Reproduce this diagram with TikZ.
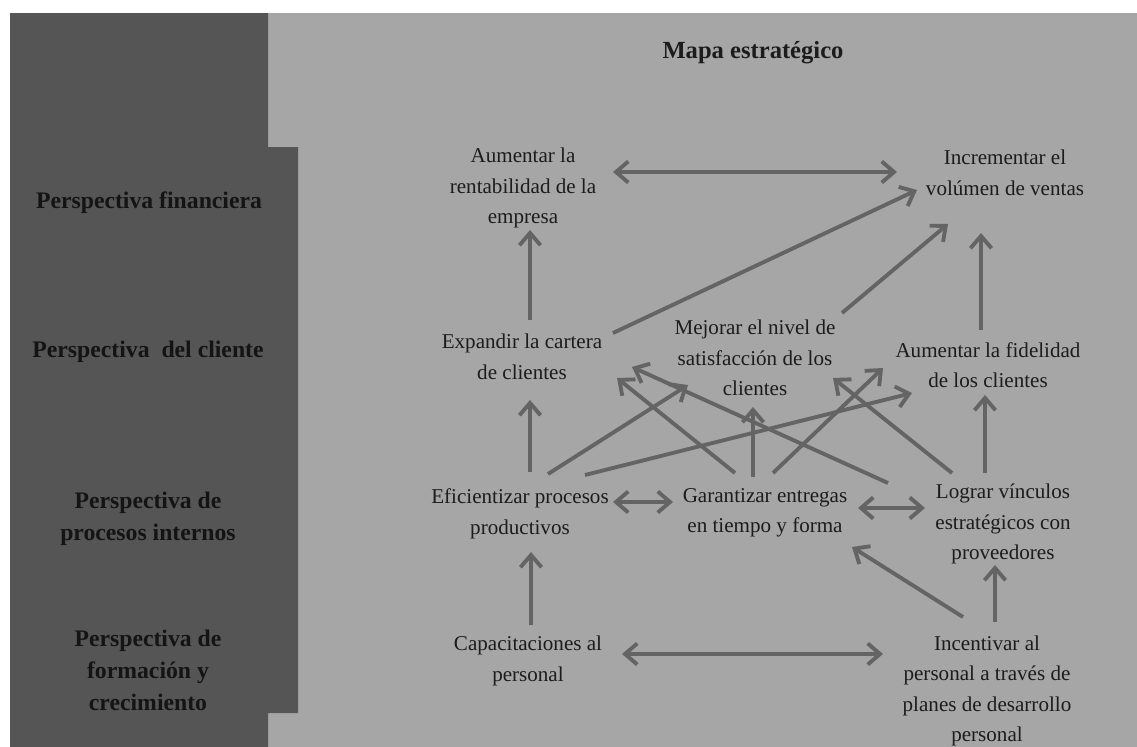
\documentclass[tikz,border=0pt]{standalone}
\usepackage{fontspec}
\setmainfont{Liberation Serif}
\usetikzlibrary{arrows.meta}

\definecolor{panel}{HTML}{555555}
\definecolor{fondo}{HTML}{A6A6A6}
\definecolor{flecha}{HTML}{646464}
\definecolor{texto}{HTML}{1C1C1C}

\begin{document}
\begin{tikzpicture}[x=0.02cm, y=-0.02cm,
    obj/.style={align=center, text=texto, inner sep=0pt, font=\fontsize{12}{17.4}\selectfont},
    persp/.style={align=center, text=black!92, inner sep=0pt, font=\bfseries\fontsize{13.5}{18.2}\selectfont},
    arr/.style={draw=flecha, line width=2.2pt, -{Straight Barb[length=7pt,width=12pt]}},
    arr2/.style={draw=flecha, line width=2.2pt, {Straight Barb[length=7pt,width=12pt]}-{Straight Barb[length=7pt,width=12pt]}}]

    \useasboundingbox (0,0) rectangle (1137,747);
    \fill[white] (0,0) rectangle (1137,747);
    \fill[fondo] (268,13) rectangle (1137,747);
    \fill[panel] (10,13) -- (268,13) -- (268,147) -- (298,147) -- (298,713) -- (268,713) -- (268,747) -- (10,747) -- cycle;

    \node[font=\bfseries\fontsize{14}{17}\selectfont, text=texto] (titulo) at (753,53) {Mapa estratégico};

    \node[persp] (pfin) at (149,203) {Perspectiva financiera};
    \node[persp] (pcli) at (148,352) {Perspectiva~ del cliente};
    \node[persp] (ppro) at (148,519) {Perspectiva de\\procesos internos};
    \node[persp] (pfor) at (148,670) {Perspectiva de\\formación y\\crecimiento};

    \node[obj] (rent) at (523,188) {Aumentar la\\rentabilidad de la\\empresa};
    \node[obj] (vol) at (1005,173) {Incrementar el\\volúmen de ventas};
    \node[obj] (exp) at (522,357) {Expandir la cartera\\de clientes};
    \node[obj] (mej) at (755,358) {Mejorar el nivel de\\satisfacción de los\\clientes};
    \node[obj] (fid) at (988,365) {Aumentar la fidelidad\\de los clientes};
    \node[obj] (efi) at (520,514) {Eficientizar procesos\\productivos};
    \node[obj] (gar) at (765,513) {Garantizar entregas\\en tiempo y forma};
    \node[obj] (log) at (1003,524) {Lograr vínculos\\estratégicos con\\proveedores};
    \node[obj] (cap) at (528,661) {Capacitaciones al\\personal};
    \node[obj] (inc) at (987,691) {Incentivar al\\personal a través de\\planes de desarrollo\\personal};

    \draw[arr2] ([shift={(90,-16)}]rent.center) -- ([shift={(-108,-1)}]vol.center);
    \draw[arr] ([shift={(8,-37)}]exp.center) -- ([shift={(7,42)}]rent.center);
    \draw[arr] ([shift={(91,-24)}]exp.center) -- ([shift={(-88,17)}]vol.center);
    \draw[arr] ([shift={(87,-45)}]mej.center) -- ([shift={(-57,51)}]vol.center);
    \draw[arr] ([shift={(-7,-35)}]fid.center) -- ([shift={(-24,60)}]vol.center);

    \draw[arr] ([shift={(10,-42)}]efi.center) -- ([shift={(8,43)}]exp.center);
    \draw[arr] ([shift={(28,-40)}]efi.center) -- ([shift={(-67,27)}]mej.center);
    \draw[arr] ([shift={(65,-39)}]efi.center) -- ([shift={(-76,28)}]fid.center);
    \draw[arr] ([shift={(-30,-40)}]gar.center) -- ([shift={(95,21)}]exp.center);
    \draw[arr] ([shift={(-12,-36)}]gar.center) -- ([shift={(-2,49)}]mej.center);
    \draw[arr] ([shift={(8,-40)}]gar.center) -- ([shift={(-105,3)}]fid.center);
    \draw[arr] ([shift={(-115,-41)}]log.center) -- ([shift={(110,10)}]exp.center);
    \draw[arr] ([shift={(-51,-51)}]log.center) -- ([shift={(78,20)}]mej.center);
    \draw[arr] ([shift={(-18,-51)}]log.center) -- ([shift={(-3,30)}]fid.center);

    \draw[arr2] ([shift={(93,-12)}]efi.center) -- ([shift={(-92,-11)}]gar.center);
    \draw[arr2] ([shift={(93,-5)}]gar.center) -- ([shift={(-78,-16)}]log.center);

    \draw[arr] ([shift={(3,-36)}]cap.center) -- ([shift={(11,38)}]efi.center);
    \draw[arr2] ([shift={(94,-7)}]cap.center) -- ([shift={(-104,-37)}]inc.center);
    \draw[arr] ([shift={(8,-69)}]inc.center) -- ([shift={(-8,41)}]log.center);
    \draw[arr] ([shift={(-24,-74)}]inc.center) -- ([shift={(87,34)}]gar.center);

\end{tikzpicture}
\end{document}
